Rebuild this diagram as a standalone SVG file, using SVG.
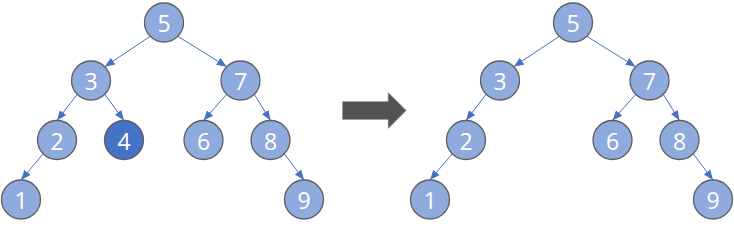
<svg xmlns="http://www.w3.org/2000/svg" width="734" height="229" viewBox="0 0 734 229">
<defs>
<style>
.n circle{fill:#8FAADC;stroke:#5F5F5F;stroke-width:1.3}
.n.hl circle{fill:#4472C4}
.n text{fill:#FFFFFF;font-family:"Open Sans","Noto Sans","DejaVu Sans",sans-serif;font-size:23px;text-anchor:middle}
.e line{stroke:#4472C4;stroke-width:1;marker-end:url(#ah)}
</style>
<marker id="ah" markerUnits="userSpaceOnUse" markerWidth="10" markerHeight="10" viewBox="0 0 10 10" refX="10" refY="5" orient="auto">
<path d="M0,1 L10,5 L0,9 Z" fill="#4472C4"/>
</marker>
</defs>
<rect width="734" height="229" fill="#FFFFFF"/>
<g id="connectors" class="e">
<line x1="150.2" y1="36.3" x2="104.8" y2="66.7"/>
<line x1="177.8" y1="36.3" x2="226.7" y2="66.7"/>
<line x1="77.2" y1="94.3" x2="57" y2="120.5"/>
<line x1="104.8" y1="94.3" x2="124" y2="120.5"/>
<line x1="226.7" y1="94.3" x2="203.5" y2="120.5"/>
<line x1="254.3" y1="94.3" x2="270.5" y2="120.5"/>
<line x1="43.2" y1="153.8" x2="21" y2="180"/>
<line x1="284.3" y1="153.8" x2="304" y2="180"/>
<line x1="559.2" y1="36.3" x2="513.8" y2="66.7"/>
<line x1="586.8" y1="36.3" x2="635.7" y2="66.7"/>
<line x1="486.2" y1="94.3" x2="466" y2="120.5"/>
<line x1="635.7" y1="94.3" x2="612.5" y2="120.5"/>
<line x1="663.3" y1="94.3" x2="679.5" y2="120.5"/>
<line x1="452.2" y1="153.8" x2="430" y2="180"/>
<line x1="693.3" y1="153.8" x2="713" y2="180"/>
</g>
<g id="L5" class="n"><circle cx="164" cy="22.5" r="19.5"/><text x="164" y="32.3">5</text></g>
<g id="L3" class="n"><circle cx="91" cy="80.5" r="19.5"/><text x="91" y="90.3">3</text></g>
<g id="L7" class="n"><circle cx="240.5" cy="80.5" r="19.5"/><text x="240.5" y="90.3">7</text></g>
<g id="L2" class="n"><circle cx="57" cy="140" r="19.5"/><text x="57" y="149.8">2</text></g>
<g id="L4" class="n hl"><circle cx="124" cy="140" r="19.5"/><text x="124" y="149.8">4</text></g>
<g id="L6" class="n"><circle cx="203.5" cy="140" r="19.5"/><text x="203.5" y="149.8">6</text></g>
<g id="L8" class="n"><circle cx="270.5" cy="140" r="19.5"/><text x="270.5" y="149.8">8</text></g>
<g id="L1" class="n"><circle cx="21" cy="199.5" r="19.5"/><text x="21" y="209.3">1</text></g>
<g id="L9" class="n"><circle cx="304" cy="199.5" r="19.5"/><text x="304" y="209.3">9</text></g>
<g id="arrow"><path d="M342.7,101.7 H388.3 V92.7 L406,110.5 L388.3,128.3 V119.3 H342.7 Z" fill="#535353" stroke="#6A6A6A" stroke-width="0.6"/></g>
<g id="R5" class="n"><circle cx="573" cy="22.5" r="19.5"/><text x="573" y="32.3">5</text></g>
<g id="R3" class="n"><circle cx="500" cy="80.5" r="19.5"/><text x="500" y="90.3">3</text></g>
<g id="R7" class="n"><circle cx="649.5" cy="80.5" r="19.5"/><text x="649.5" y="90.3">7</text></g>
<g id="R2" class="n"><circle cx="466" cy="140" r="19.5"/><text x="466" y="149.8">2</text></g>
<g id="R6" class="n"><circle cx="612.5" cy="140" r="19.5"/><text x="612.5" y="149.8">6</text></g>
<g id="R8" class="n"><circle cx="679.5" cy="140" r="19.5"/><text x="679.5" y="149.8">8</text></g>
<g id="R1" class="n"><circle cx="430" cy="199.5" r="19.5"/><text x="430" y="209.3">1</text></g>
<g id="R9" class="n"><circle cx="713" cy="199.5" r="19.5"/><text x="713" y="209.3">9</text></g>
</svg>
